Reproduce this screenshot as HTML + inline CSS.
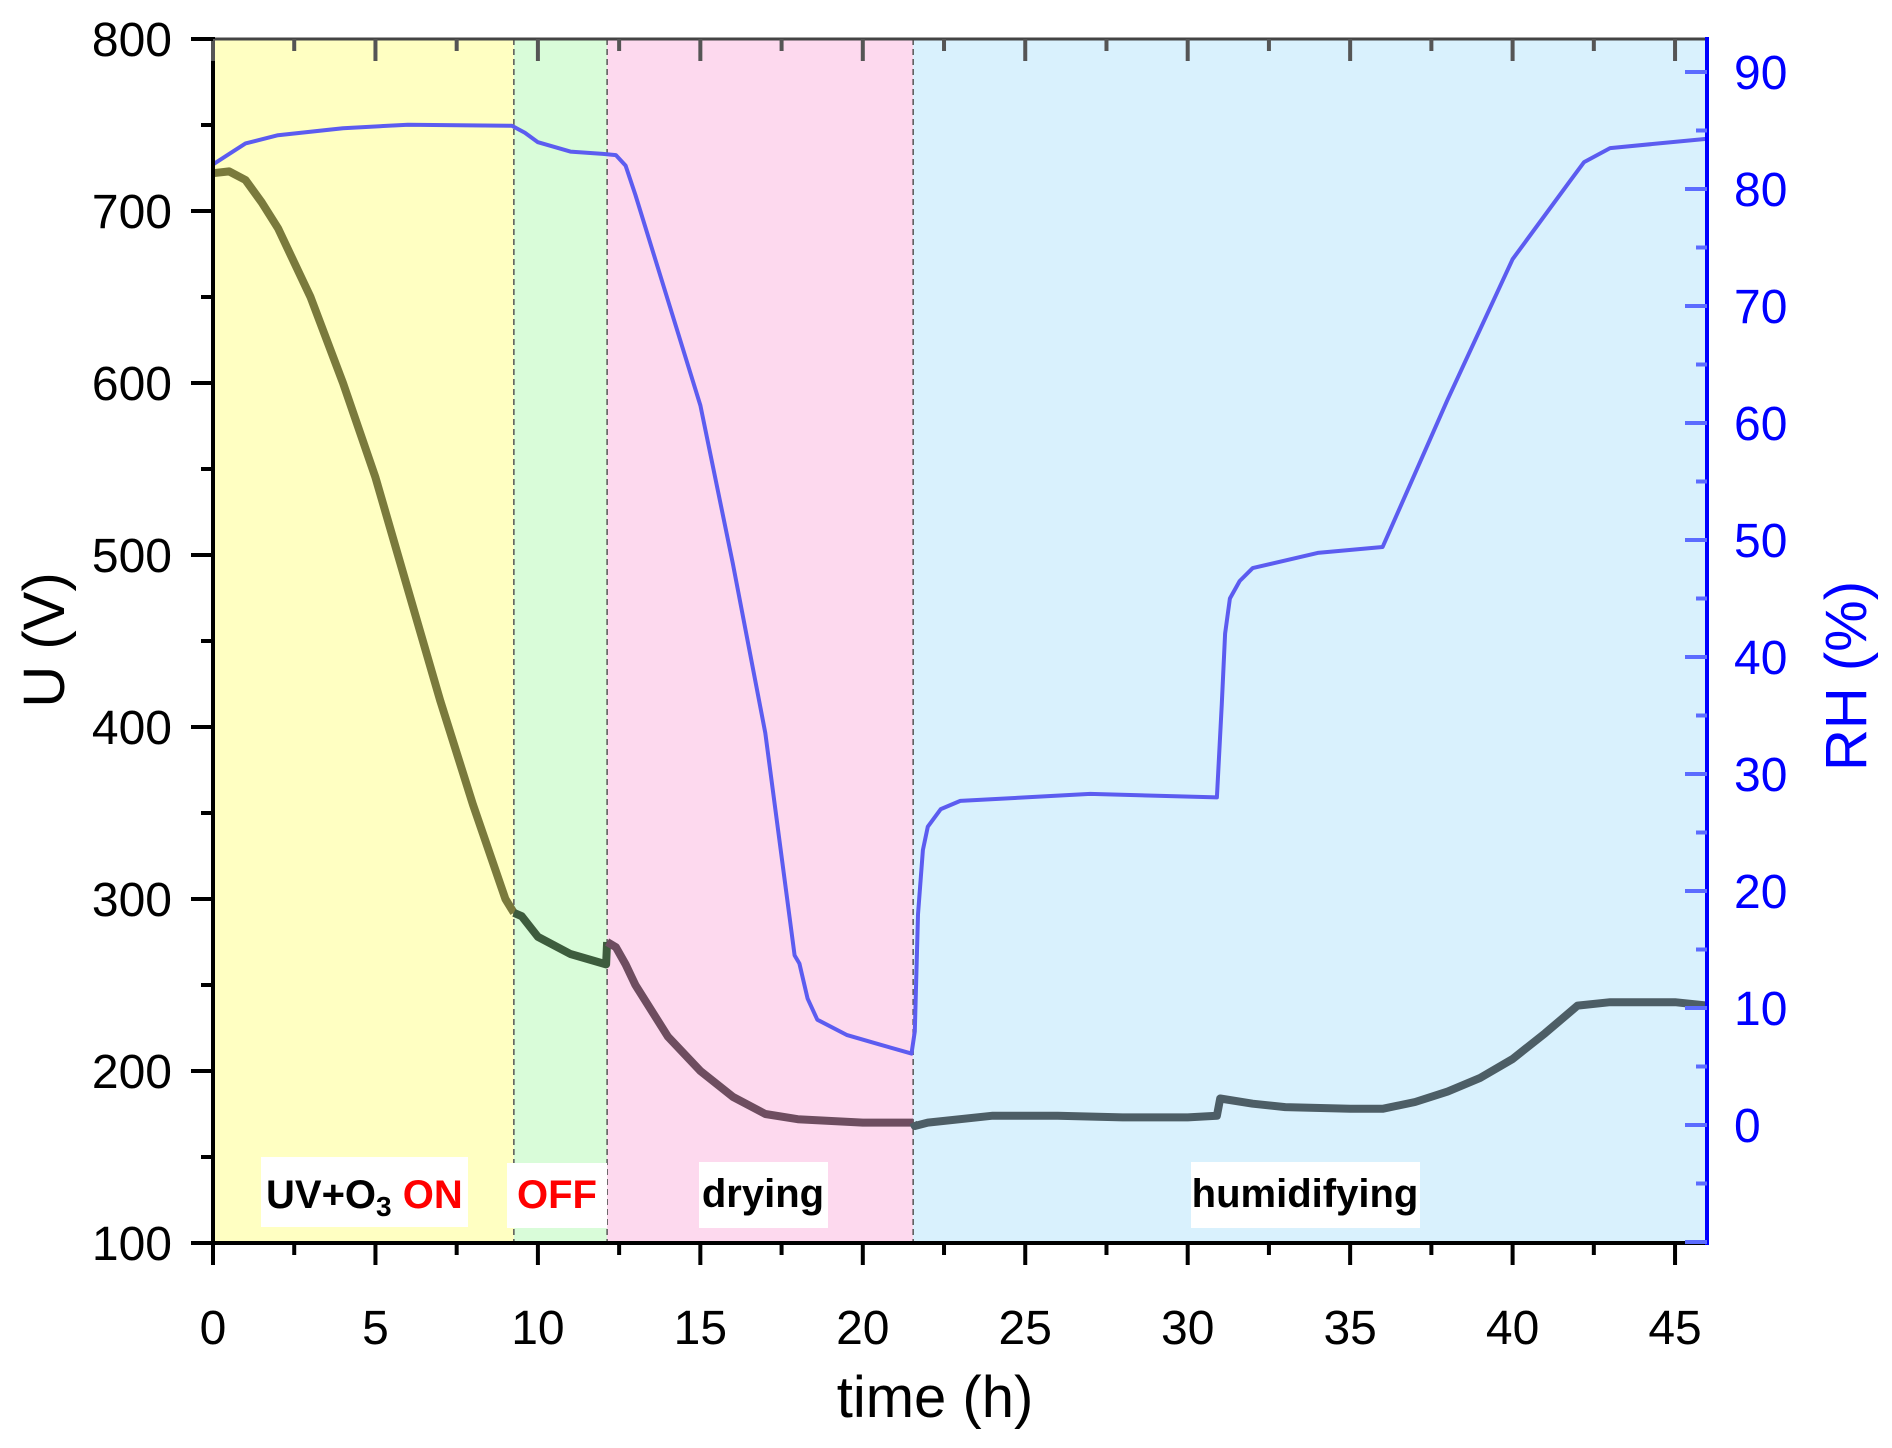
<!DOCTYPE html>
<html><head><meta charset="utf-8"><style>
html,body{margin:0;padding:0;background:#fff;}
svg{display:block;font-family:"Liberation Sans",Arial,sans-serif;}
</style></head><body>
<svg id="chart" width="1892" height="1448" viewBox="0 0 1892 1448">
<g id="bg"></g>
<g id="grid"></g>
<g id="series"></g>
<g id="labels"></g>
<g id="axes"></g>
<text x="935" y="1417" font-size="58" text-anchor="middle">time (h)</text>
<text transform="translate(64,640) rotate(-90)" font-size="58" text-anchor="middle">U (V)</text>
<text transform="translate(1866,676) rotate(-90)" font-size="58" fill="#0000ff" text-anchor="middle">RH (%)</text>
</svg>
<script>
const phaseBounds = [0, 9.26, 12.13, 21.55, 46];
const phaseColors = ["#ffffc2", "#d9fcd9", "#fdd9ee", "#d9f1fd"];
const phaseLineColors = ["#7a7a3c", "#3d5c3d", "#6e4d60", "#4d5e66"];
const uTime = [0,0.5,1,1.5,2,3,4,5,6,7,8,9,9.26,9.5,10,11,12.1, 12.13,12.4,12.7,13,14,15,16,17,18,20,21.55, 21.6,22,24,26,28,30,30.9,31,32,33,35,36,37,38,39,40,41,42,43,45,46];
const uVals = [722,723,718,705,690,650,600,545,480,415,355,300,292,290,278,268,262, 275,272,262,250,220,200,185,175,172,170,170, 168,170,174,174,173,173,174,184,181,179,178,178,182,188,196,207,222,238,240,240,238];
const rhTime = [0,0.5,1,2,4,6,9.2,9.6,10,11,12,12.4,12.7,13,14,15,16,17,17.9,18.05,18.3,18.6,19.5,20.5,21.5,21.6,21.7,21.85,22,22.4,23,25,27,30.9,31.05,31.15,31.3,31.6,32,34,36,38,40,41.8,42.2,43,46];
const rhVals = [82.1,83,83.9,84.6,85.2,85.5,85.4,84.8,84,83.2,83,82.9,82,79.5,70.5,61.5,48,33.5,14.5,13.8,10.8,9,7.7,6.9,6.1,8,18,23.5,25.5,27,27.7,28,28.3,28,36,42,45,46.5,47.6,48.9,49.4,62,74,80.8,82.3,83.5,84.3];
const xTicks = [0,5,10,15,20,25,30,35,40,45];
const uTicks = [100,200,300,400,500,600,700,800];
const rhTicks = [0,10,20,30,40,50,60,70,80,90];

const X0=213, XS=32.49, TOP=39, BOT=1243, RIGHT=1707;
const xs = t => X0 + t*XS;
const yU = u => TOP + (800-u)*1.72;
const yR = r => 1125 - r*11.7;
const NS="http://www.w3.org/2000/svg";
function mk(tag, attrs, parent){const e=document.createElementNS(NS,tag);for(const k in attrs)e.setAttribute(k,attrs[k]);parent.appendChild(e);return e;}
const bg=document.getElementById('bg'), grid=document.getElementById('grid'), ser=document.getElementById('series'), lab=document.getElementById('labels'), ax=document.getElementById('axes');

for(let i=0;i<4;i++){
  const r=mk('rect',{x:xs(phaseBounds[i]),y:TOP,width:xs(phaseBounds[i+1])-xs(phaseBounds[i]),height:BOT-TOP,fill:phaseColors[i]},bg);
  
  
}
for(let i=1;i<4;i++){
  const l=mk('line',{x1:xs(phaseBounds[i]),x2:xs(phaseBounds[i]),y1:TOP,y2:BOT,stroke:"#555",'stroke-width':1.5,'stroke-dasharray':"6,4"},grid);
  
  
}
for(let p=0;p<4;p++){
  const pts=[];
  for(let i=0;i<uTime.length;i++){
    const t=uTime[i];
    const inP = p===3 ? t>=phaseBounds[3] : (t>=phaseBounds[p] && t<=phaseBounds[p+1]);
    if(inP) pts.push(xs(t).toFixed(1)+','+yU(uVals[i]).toFixed(1));
  }
  const pl=mk('polyline',{points:pts.join(' '),fill:'none',stroke:phaseLineColors[p],'stroke-width':8,'stroke-linejoin':'round'},ser);
  
  
}
const rp=rhTime.map((t,i)=>xs(t).toFixed(1)+','+yR(rhVals[i]).toFixed(1)).join(' ');
const rl=mk('polyline',{points:rp,fill:'none',stroke:'#5c5cf0','stroke-width':4,'stroke-linejoin':'round'},ser);



const boxes=[[261,1157,207,70],[507,1163,100,65],[699,1162,129,66],[1191,1162,229,66]];
for(let i=0;i<4;i++){
  const b=boxes[i];
  const r=mk('rect',{x:b[0],y:b[1],width:b[2],height:b[3],fill:'#fff'},lab);
  
  
}
function txt(x,y,s,attrs){const e=mk('text',Object.assign({x:x,y:y},attrs),lab);e.textContent=s;return e;}
let t1=mk('text',{x:266,y:1208,'font-size':40,'font-weight':'bold'},lab);


t1.innerHTML='UV+O<tspan font-size="28" dy="8">3</tspan><tspan dy="-8" fill="#ff0000"> ON</tspan>';
let t2=txt(557,1208,'OFF',{'font-size':40,'font-weight':'bold',fill:'#ff0000','text-anchor':'middle'});


let t3=txt(763,1207,'drying',{'font-size':40,'font-weight':'bold','text-anchor':'middle'});


let t4=txt(1305,1207,'humidifying',{'font-size':40,'font-weight':'bold','text-anchor':'middle'});



let a;
a=mk('line',{x1:X0,x2:RIGHT,y1:BOT,y2:BOT,stroke:'#000','stroke-width':4},ax);
a=mk('line',{x1:X0,x2:RIGHT,y1:TOP,y2:TOP,stroke:'#444','stroke-width':3},ax);
a=mk('line',{x1:X0,x2:X0,y1:TOP-2,y2:BOT+2,stroke:'#000','stroke-width':4},ax);
a=mk('line',{x1:RIGHT,x2:RIGHT,y1:TOP-2,y2:BOT+2,stroke:'#0000ff','stroke-width':4},ax);
for(let t=0;t<=46;t+=2.5){
  const maj=(t%5===0), x=xs(t);
  mk('line',{x1:x,x2:x,y1:BOT,y2:BOT+(maj?22:12),stroke:'#000','stroke-width':4},ax);
  mk('line',{x1:x,x2:x,y1:TOP,y2:TOP+(maj?22:12),stroke:'#555','stroke-width':4},ax);
}
xTicks.forEach(t=>{const e=mk('text',{x:xs(t),y:1344,'font-size':48,'text-anchor':'middle'},ax);e.textContent=t;
  });
for(let u=100;u<=800;u+=50){
  const maj=(u%100===0), y=yU(u);
  mk('line',{x1:X0-(maj?22:12),x2:X0,y1:y,y2:y,stroke:'#000','stroke-width':4},ax);
}
uTicks.forEach(u=>{const e=mk('text',{x:172,y:yU(u)+17,'font-size':48,'text-anchor':'end'},ax);e.textContent=u;
  });
for(let r=-10;r<=90;r+=5){
  const maj=(r%10===0), y=yR(r);
  if(y>BOT||y<TOP)continue;
  mk('line',{x1:RIGHT-(maj?22:11),x2:RIGHT,y1:y,y2:y,stroke:'#5c6cff','stroke-width':4},ax);
}
rhTicks.forEach(r=>{const e=mk('text',{x:1734,y:yR(r)+17,'font-size':48,fill:'#0000ff'},ax);e.textContent=r;
  });
</script>
</body></html>
